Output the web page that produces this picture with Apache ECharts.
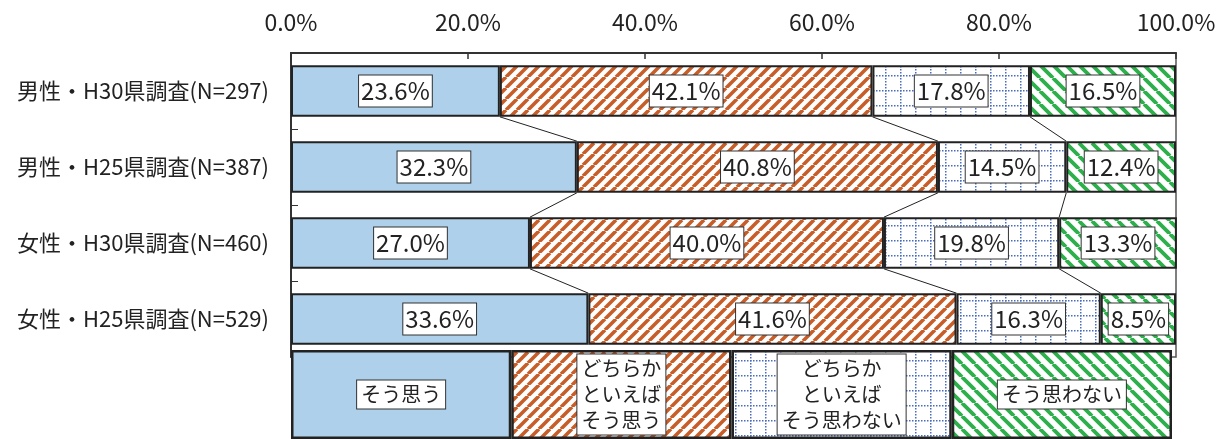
<!DOCTYPE html>
<html>
<head>
<meta charset="utf-8">
<script src="https://cdn.jsdelivr.net/npm/echarts@6/dist/echarts.min.js"></script>
<style>
html,body{margin:0;padding:0;background:#fff;}
#chart{width:1222px;height:439px;}
</style>
</head>
<body>
<div id="chart"></div>
<script>
// ---- data ----
const categories = ['男性・H30県調査(N=297)', '男性・H25県調査(N=387)', '女性・H30県調査(N=460)', '女性・H25県調査(N=529)'];
const soOmou = [23.6, 32.3, 27.0, 33.6];
const dochiraSoOmou = [42.1, 40.8, 40.0, 41.6];
const dochiraSoOmowanai = [17.8, 14.5, 19.8, 16.3];
const soOmowanai = [16.5, 12.4, 13.3, 8.5];
const seriesNames = ['そう思う', 'どちらかといえばそう思う', 'どちらかといえばそう思わない', 'そう思わない'];
const legendTexts = ['そう思う', 'どちらか\nといえば\nそう思う', 'どちらか\nといえば\nそう思わない', 'そう思わない'];
const legendShares = [1, 1, 1, 1];
const xTickMin = 0, xTickMax = 100, xTickInterval = 20;

const FONT = "'Noto Sans CJK JP', 'Noto Sans', sans-serif";
const seriesData = [soOmou, dochiraSoOmou, dochiraSoOmowanai, soOmowanai];

// ---- patterns ----
function stripes(color, size, width, dir) {
  const c = document.createElement('canvas');
  c.width = c.height = size;
  const g = c.getContext('2d');
  g.fillStyle = '#fff'; g.fillRect(0, 0, size, size);
  g.strokeStyle = color; g.lineWidth = width;
  g.beginPath();
  for (const o of [-size, 0, size]) {
    if (dir === '/') { g.moveTo(o, size); g.lineTo(o + size, 0); }
    else { g.moveTo(o, 0); g.lineTo(o + size, size); }
  }
  g.stroke();
  return c;
}
function dotGrid(color, size, step) {
  const c = document.createElement('canvas');
  c.width = c.height = size;
  const g = c.getContext('2d');
  g.fillStyle = '#fff'; g.fillRect(0, 0, size, size);
  g.fillStyle = color;
  for (let t = 0; t < size; t += step) {
    g.fillRect(0, t, 1.5, 1.5);
    g.fillRect(t, 0, 1.5, 1.5);
  }
  return c;
}
const fills = [
  '#AED0EA',
  { image: stripes('#C75E2A', 11, 3.6, '/'), repeat: 'repeat' },
  { image: dotGrid('#4A6CBE', 15, 3), repeat: 'repeat' },
  { image: stripes('#2DB04C', 13, 3.8, '\\'), repeat: 'repeat' }
];

const BAR_RATIO = 0.68;

const series = [];
seriesData.forEach((arr, k) => {
  series.push({
    name: seriesNames[k],
    type: 'bar',
    stack: 'main',
    barWidth: (BAR_RATIO * 100) + '%',
    xAxisIndex: 0, yAxisIndex: 0,
    data: arr,
    itemStyle: { color: fills[k], borderColor: '#222', borderWidth: 2 },
    label: {
      show: true, position: 'inside',
      formatter: p => p.value.toFixed(1) + '%',
      fontFamily: FONT, fontSize: 24, color: '#222',
      backgroundColor: '#fff', borderColor: '#333', borderWidth: 1,
      padding: [4, 2, 3, 2]
    },
    z: 4
  });
});

// leader lines between adjacent bars
series.push({
  type: 'custom',
  xAxisIndex: 0, yAxisIndex: 0,
  data: [[0, 0], [0, 1], [0, 2]],
  encode: { x: 0, y: 1 },
  z: 3,
  silent: true,
  renderItem: function (params, api) {
    const i = params.dataIndex;
    const half = api.size([0, 1])[1] * BAR_RATIO / 2;
    const children = [];
    let c1 = 0, c2 = 0;
    for (let k = 0; k < 3; k++) {
      c1 += seriesData[k][i];
      c2 += seriesData[k][i + 1];
      const p1 = api.coord([c1, i]);
      const p2 = api.coord([c2, i + 1]);
      children.push({
        type: 'line',
        shape: { x1: p1[0], y1: p1[1] + half, x2: p2[0], y2: p2[1] - half },
        style: { stroke: '#222', lineWidth: 1 }
      });
    }
    return { type: 'group', children: children };
  }
});

// legend drawn as a band of equal boxes
legendTexts.forEach((t, k) => {
  series.push({
    type: 'bar',
    stack: 'legend',
    barWidth: '100%',
    xAxisIndex: 1, yAxisIndex: 1,
    data: [legendShares[k]],
    itemStyle: { color: fills[k], borderColor: '#222', borderWidth: 2.5 },
    label: {
      show: true, position: 'inside',
      formatter: () => t,
      fontFamily: FONT, fontSize: 20, lineHeight: 26, color: '#222',
      backgroundColor: '#fff', borderColor: '#333', borderWidth: 1,
      padding: [2, 4, 0, 4]
    },
    silent: true,
    z: 10
  });
});

const chart = echarts.init(document.getElementById('chart'), null, { renderer: 'canvas' });
chart.setOption({
  animation: false,
  backgroundColor: '#fff',
  grid: [
    { left: 291, right: 46, top: 53, height: 304, show: true, borderColor: '#555', borderWidth: 1.5, containLabel: false },
    { left: 291, width: 881, top: 350, height: 94, show: false, containLabel: false, z: 10 }
  ],
  xAxis: [
    {
      type: 'value', gridIndex: 0, position: 'top',
      min: xTickMin, max: xTickMax, interval: xTickInterval,
      axisLine: { show: true, lineStyle: { color: '#333', width: 2 } },
      axisTick: { show: true, inside: true, length: 6, lineStyle: { color: '#333', width: 1.5 } },
      splitLine: { show: false },
      axisLabel: { formatter: v => v.toFixed(1) + '%', fontFamily: FONT, fontSize: 23, color: '#222', margin: 19 }
    },
    { type: 'value', gridIndex: 1, min: 0, max: 4, show: false }
  ],
  yAxis: [
    {
      type: 'category', gridIndex: 0, data: categories, inverse: true,
      axisLine: { show: true, lineStyle: { color: '#333', width: 2 } },
      axisTick: { show: true, inside: true, length: 7, lineStyle: { color: '#333', width: 1 } },
      axisLabel: { fontFamily: FONT, fontSize: 22, color: '#222', margin: 22 }
    },
    { type: 'category', gridIndex: 1, data: ['凡例'], show: false }
  ],
  series: series
});
</script>
</body>
</html>
